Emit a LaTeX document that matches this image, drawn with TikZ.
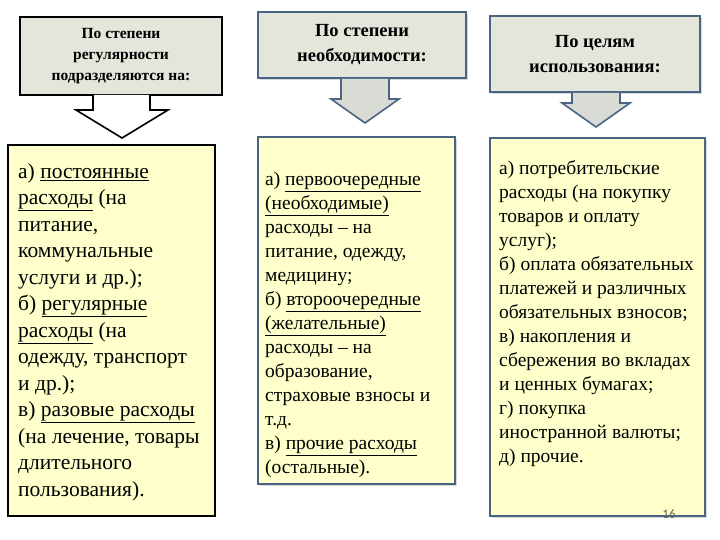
\documentclass[tikz,border=0pt]{standalone}
\usepackage{fontspec}
\setmainfont{Liberation Serif}
\setsansfont{Carlito}
\usetikzlibrary{shadows}
\definecolor{topfill}{HTML}{E4E6DC}
\definecolor{botfill}{HTML}{FFFFCC}
\definecolor{bord}{HTML}{4A6584}
\definecolor{arrfill}{HTML}{D9DBD5}
\tikzset{x=1pt,y=-1pt,
 hdr/.style={draw=black,line width=1.6pt,fill=topfill,align=center,font=\bfseries\fontsize{15.5}{21}\selectfont},
 hdrb/.style={draw=bord,line width=1.6pt,fill=topfill,align=center,font=\bfseries\fontsize{18.5}{25}\selectfont,drop shadow={shadow xshift=2pt,shadow yshift=-2pt,fill=gray!60}},
 body/.style={draw=black,line width=1.2pt,fill=botfill},
 bodyb/.style={draw=bord,line width=1.2pt,fill=botfill,drop shadow={shadow xshift=2pt,shadow yshift=-2pt,fill=gray!60}},
 txt/.style={anchor=north west,align=left,inner sep=0pt}}
\newcommand{\ul}[1]{\underline{#1}}
\begin{document}
\begin{tikzpicture}
\useasboundingbox (0,0) rectangle (720,540);
\fill[white] (0,0) rectangle (720,540);
% column 1
\node[hdr,minimum width=202pt,minimum height=78pt] (h1) at (121,56) {По степени\\регулярности\\подразделяются на:};
\draw[line width=1.6pt,fill=white] (93,95) -- (93,110) -- (76,110) -- (122,138) -- (168,110) -- (150,110) -- (150,95);
\path[body] (8,145) rectangle (215,516);
\node (b1) [txt,font=\fontsize{21.5}{26.5}\selectfont] at (18,163) {а) \ul{постоянные}\\\ul{расходы} (на\\питание,\\коммунальные\\услуги и др.);\\б) \ul{регулярные}\\\ul{расходы} (на\\одежду, транспорт\\и др.);\\в) \ul{разовые расходы}\\(на лечение, товары\\длительного\\пользования).};
% column 2
\node[hdrb,minimum width=208pt,minimum height=66pt] (h2) at (362,45) {По степени\\необходимости:};
\draw[line width=1.6pt,draw=bord,fill=arrfill] (341,79) -- (341,99) -- (331,99) -- (365,123) -- (399,99) -- (389,99) -- (389,79);
\path[bodyb] (258,137) rectangle (455,484);
\node (b2) [txt,font=\fontsize{19.5}{24}\selectfont] at (265,172) {а) \ul{первоочередные}\\\ul{(необходимые)}\\расходы – на\\питание, одежду,\\медицину;\\б) \ul{второочередные}\\\ul{(желательные)}\\расходы – на\\образование,\\страховые взносы и\\т.д.\\в) \ul{прочие расходы}\\(остальные).};
% column 3
\node[hdrb,minimum width=210pt,minimum height=76pt] (h3) at (595,54) {По целям\\использования:};
\draw[line width=1.6pt,draw=bord,fill=arrfill] (572,93) -- (572,103) -- (562,103) -- (596,127) -- (630,103) -- (620,103) -- (620,93);
\path[bodyb] (490,138) rectangle (705,516);
\node (b3) [txt,font=\fontsize{19.5}{24}\selectfont] at (499,160) {а) потребительские\\расходы (на покупку\\товаров и оплату\\услуг);\\б) оплата обязательных\\платежей и различных\\обязательных взносов;\\в) накопления и\\сбережения во вкладах\\и ценных бумагах;\\г) покупка\\иностранной валюты;\\д) прочие.};
\node (pg) [font=\sffamily\fontsize{13}{14}\selectfont,text=gray!80!black] at (669,514) {16};
\end{tikzpicture}
\end{document}
